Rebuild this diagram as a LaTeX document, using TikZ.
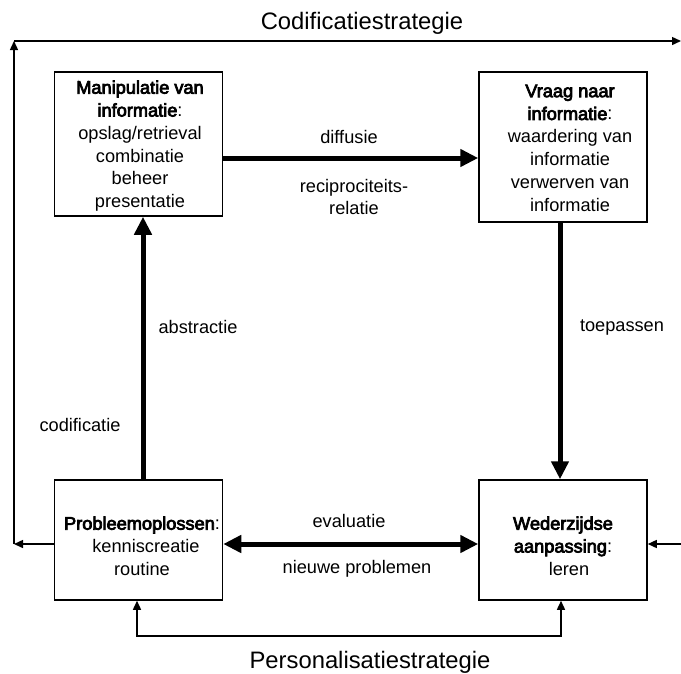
\documentclass[tikz,border=0pt]{standalone}
\usepackage{fontspec}
\setmainfont{Liberation Sans}
\newfontfamily\hdfont[FakeBold=4]{Liberation Sans}
\usetikzlibrary{arrows.meta}
\tikzset{
  box/.style={draw, line width=1.5pt, rectangle, inner sep=0pt},
  txt/.style={align=center, inner sep=0pt, font=\fontsize{18.2}{22.8}\selectfont},
  lbl/.style={inner sep=0pt, align=center, font=\fontsize{18.2}{22.8}\selectfont},
  big/.style={inner sep=0pt, font=\fontsize{23.8}{26}\selectfont},
  thick arrow/.style={line width=5pt, -{Triangle[length=18pt,width=17pt]}},
  thick both/.style={line width=5pt, {Triangle[length=18pt,width=17pt]}-{Triangle[length=18pt,width=17pt]}},
  thin arrow/.style={line width=1.4pt, -{Triangle[length=9pt,width=8pt]}},
  thin both/.style={line width=1.4pt, {Triangle[length=9pt,width=8pt]}-{Triangle[length=9pt,width=8pt]}}
}
\newcommand{\hd}[1]{{\hdfont #1}}
\begin{document}
\begin{tikzpicture}[x=1pt,y=-1pt]
\useasboundingbox (0,0) rectangle (681,673);
% boxes
\node[box, minimum width=168pt, minimum height=144pt] (manip) at (138.5,144) {};
\node[box, minimum width=168pt, minimum height=150pt] (vraag) at (563,147) {};
\node[box, minimum width=168pt, minimum height=120pt] (prob) at (138.5,540) {};
\node[box, minimum width=168pt, minimum height=120pt] (weder) at (563,540) {};
% box texts
\node[txt] (tmanip) at (140,146) {\hd{Manipulatie van}\\\hd{informatie}:\\opslag/retrieval\\combinatie\\beheer\\presentatie};
\node[txt] (tvraag) at (570,148) {\hd{Vraag naar}\\\hd{informatie}:\\waardering van\\informatie\\verwerven van\\informatie};
\node[txt] (tprob) at (142,546) {\hd{Probleemoplossen}:\\\hspace*{8pt}kenniscreatie\\routine};
\node[txt] (tweder) at (563,546) {\hd{Wederzijdse}\\\hd{aanpassing}:\\\hspace*{12pt}leren};
% titles
\node[big] (codtitle) at (362,23) {Codificatiestrategie};
\node[big] (pertitle) at (370,662) {Personalisatiestrategie};
% labels
\node[lbl] (ldiff) at (349,137) {diffusie};
\node[lbl] (lrecip) at (354,197) {reciprociteits-\\relatie};
\node[lbl] (labs) at (198,327) {abstractie};
\node[lbl] (ltoep) at (622,327) {toepassen};
\node[lbl] (lcod) at (80,425) {codificatie};
\node[lbl] (leval) at (349,521) {evaluatie};
\node[lbl] (lnieuw) at (357,569) {nieuwe problemen};
% coordinates
\coordinate (L) at (14,544);
\coordinate (TL) at (14,41);
\coordinate (TR) at (681,41);
\coordinate (R) at (681,544);
\coordinate (BL) at (137,636);
\coordinate (BR) at (561,636);
% thick arrows
\draw[thick arrow] (manip.east |- 0,158) -- (vraag.west |- 0,158);
\draw[thick arrow] (vraag.south -| 560,0) -- (weder.north -| 560,0);
\draw[thick arrow] (prob.north -| 143,0) -- (manip.south -| 143,0);
\draw[thick both] (prob.east |- 0,544) -- (weder.west |- 0,544);
% thin connectors
\draw[thin arrow] (prob.west |- L) -- (L);
\draw[thin arrow] (L) -- (TL);
\draw[thin arrow] (TL) -- (TR);
\draw[thin arrow] (R) -- (weder.east |- R);
\draw[thin both] (prob.south -| BL) -- (BL) -- (BR) -- (weder.south -| BR);
\end{tikzpicture}
\end{document}
